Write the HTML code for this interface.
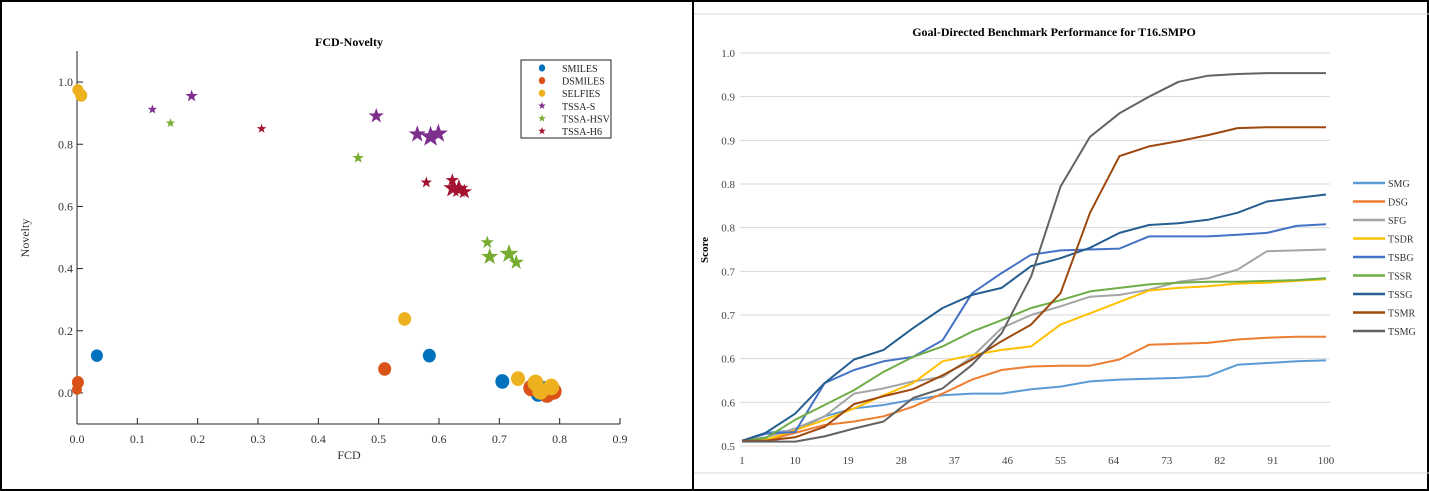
<!DOCTYPE html>
<html><head><meta charset="utf-8">
<style>
html,body{margin:0;padding:0;background:#fff;}
svg{display:block;font-family:"Liberation Serif",serif;}
</style></head>
<body>
<svg id="root" width="1429" height="491" viewBox="0 0 1429 491" xmlns="http://www.w3.org/2000/svg">
  <rect x="1" y="1" width="1427" height="489" fill="#fff" stroke="#000" stroke-width="2"/>
  <line x1="693" y1="0" x2="693" y2="491" stroke="#000" stroke-width="2"/>
  <line x1="694" y1="14" x2="1429" y2="14" stroke="#d9d9d9" stroke-width="1"/>
  <line x1="694" y1="473" x2="1429" y2="473" stroke="#d9d9d9" stroke-width="1"/>

  <g id="left">
    <text x="349" y="46" text-anchor="middle" font-size="12" font-weight="bold">FCD-Novelty</text>
    <text x="349" y="459" text-anchor="middle" font-size="12" fill="#333">FCD</text>
    <text x="29" y="238" text-anchor="middle" font-size="12" fill="#333" transform="rotate(-90 29 238)">Novelty</text>
    <g id="lax"></g>
    <g id="lpts"></g>
    <g id="lleg"></g>
  </g>

  <g id="right">
    <text x="1054" y="36" text-anchor="middle" font-size="12" font-weight="bold">Goal-Directed Benchmark Performance for T16.SMPO</text>
    <text x="708" y="250" text-anchor="middle" font-size="11" font-weight="bold" transform="rotate(-90 708 250)">Score</text>
    <g id="rax"></g>
    <g id="rlines"></g>
    <g id="rleg"></g>
  </g>
</svg>
<script>
// ---------- Left scatter data ----------
const scatterSeries = ["SMILES","DSMILES","SELFIES","TSSA-S","TSSA-HSV","TSSA-H6"];
const scatterColors = ["#0072BD","#D95319","#EDB120","#7E2F8E","#77AC30","#A2142F"];
const scatterShapes = ["circle","circle","circle","star","star","star"];
const smilesFCD = [0.033,0.584,0.705,0.764,0.771];
const smilesNov = [0.12,0.12,0.037,-0.005,0.016];
const smilesSize = [6,6.5,7,7,7];
const dsmilesFCD = [0.0015,0.0,0.51,0.753,0.779,0.79];
const dsmilesNov = [0.034,0.011,0.077,0.016,-0.005,0.005];
const dsmilesSize = [6,5,6.5,8,8,8];
const selfiesFCD = [0.0015,0.007,0.543,0.731,0.760,0.768,0.786];
const selfiesNov = [0.975,0.957,0.238,0.046,0.032,0.005,0.019];
const selfiesSize = [5.5,6,6.5,7,8,8,8];
const tssaSFCD = [0.125,0.19,0.496,0.564,0.586,0.599];
const tssaSNov = [0.912,0.955,0.891,0.832,0.824,0.834];
const tssaSSize = [5,6.5,8,9,11,10];
const tssaHsvFCD = [0.155,0.466,0.680,0.684,0.716,0.728];
const tssaHsvNov = [0.868,0.756,0.484,0.438,0.447,0.42];
const tssaHsvSize = [5,6,7,9,10,8];
const tssaH6FCD = [0.306,0.579,0.622,0.623,0.633,0.642];
const tssaH6Nov = [0.850,0.677,0.684,0.658,0.656,0.647];
const tssaH6Size = [5,6,7,10,10,8];
const xTicksL = [0,0.1,0.2,0.3,0.4,0.5,0.6,0.7,0.8,0.9];
const xTickLabelsL = ["0.0","0.1","0.2","0.3","0.4","0.5","0.6","0.7","0.8","0.9"];
const yTicksL = [0,0.2,0.4,0.6,0.8,1.0];
const yTickLabelsL = ["0.0","0.2","0.4","0.6","0.8","1.0"];

// ---------- Right line chart data ----------
const runs = [1,5,10,15,20,25,30,35,40,45,50,55,60,65,70,75,80,85,90,95,100];
const lineSeries = ["SMG","DSG","SFG","TSDR","TSBG","TSSR","TSSG","TSMR","TSMG"];
const lineColors = ["#5B9BD5","#ED7D31","#A5A5A5","#FFC000","#4472C4","#70AD47","#255E91","#9E480E","#636363"];
const smgVals  = [.506,.515,.518,.534,.543,.547,.553,.558,.560,.560,.565,.568,.574,.576,.577,.578,.580,.593,.595,.597,.598];
const dsgVals  = [.506,.506,.515,.524,.528,.534,.545,.560,.576,.587,.591,.592,.592,.599,.616,.617,.618,.622,.624,.625,.625];
const sfgVals  = [.506,.510,.520,.534,.560,.566,.574,.579,.602,.635,.650,.660,.671,.673,.679,.688,.692,.702,.723,.724,.725];
const tsdrVals = [.506,.507,.518,.530,.543,.558,.572,.597,.604,.610,.614,.639,.652,.665,.678,.681,.683,.686,.687,.689,.691];
const tsbgVals = [.506,.514,.516,.572,.587,.597,.602,.621,.675,.698,.719,.724,.725,.726,.740,.740,.740,.742,.744,.752,.754];
const tssrVals = [.506,.509,.530,.547,.564,.585,.602,.614,.631,.644,.658,.667,.677,.681,.685,.687,.688,.688,.689,.690,.692];
const tssgVals = [.506,.515,.537,.572,.599,.610,.635,.658,.673,.681,.706,.715,.727,.744,.753,.755,.759,.767,.780,.784,.788];
const tsmrVals = [.506,.506,.510,.522,.548,.557,.565,.581,.599,.620,.639,.675,.767,.832,.843,.849,.856,.864,.865,.865,.865];
const tsmgVals = [.505,.505,.505,.511,.520,.528,.555,.566,.593,.629,.694,.797,.854,.881,.900,.917,.924,.926,.927,.927,.927];
const xTicksR = [1,10,19,28,37,46,55,64,73,82,91,100];
const yTicksR = [0.5,0.55,0.6,0.65,0.7,0.75,0.8,0.85,0.9,0.95];
const yTickLabelsR = ["0.5","0.6","0.6","0.7","0.7","0.8","0.8","0.9","0.9","1.0"];

const NS = "http://www.w3.org/2000/svg";
function mk(tag, attrs, parent){
  const e = document.createElementNS(NS, tag);
  for (const k in attrs) e.setAttribute(k, attrs[k]);
  parent.appendChild(e);
  return e;
}
function starPath(cx, cy, r){
  let d = "";
  for (let i=0;i<10;i++){
    const rr = i%2===0 ? r : r*0.4;
    const a = -Math.PI/2 + i*Math.PI/5;
    d += (i===0?"M":"L") + (cx+rr*Math.cos(a)).toFixed(2) + "," + (cy+rr*Math.sin(a)).toFixed(2);
  }
  return d + "Z";
}

// Left axes
const lx = v => 77 + v/0.9*543;
const ly = v => 424 - (v+0.1)/1.2*373;
const lax = document.getElementById("lax");
let e;
e = mk("line",{x1:77,y1:424,x2:620,y2:424,stroke:"#222","stroke-width":1},lax);


e = mk("line",{x1:77,y1:51,x2:77,y2:424,stroke:"#222","stroke-width":1},lax);


xTicksL.forEach((t,i)=>{
  const x = lx(t);
  const tk = mk("line",{x1:x,y1:424,x2:x,y2:418,stroke:"#222"},lax);
  
  
  const tl = mk("text",{x:x,y:443,"text-anchor":"middle","font-size":12,fill:"#333"},lax);
  tl.textContent = xTickLabelsL[i];
  
  
});
yTicksL.forEach((t,i)=>{
  const y = ly(t);
  const tk = mk("line",{x1:77,y1:y,x2:83,y2:y,stroke:"#222"},lax);
  
  
  const tl = mk("text",{x:73,y:y+4,"text-anchor":"end","font-size":12,fill:"#333"},lax);
  tl.textContent = yTickLabelsL[i];
  
  
});

// Left points
const lpts = document.getElementById("lpts");
const scatterData = [
  [smilesFCD,smilesNov,smilesSize],[dsmilesFCD,dsmilesNov,dsmilesSize],[selfiesFCD,selfiesNov,selfiesSize],
  [tssaSFCD,tssaSNov,tssaSSize],[tssaHsvFCD,tssaHsvNov,tssaHsvSize],[tssaH6FCD,tssaH6Nov,tssaH6Size]
];
scatterData.forEach((s,si)=>{
  const [xs,ys,ss] = s;
  xs.forEach((xv,i)=>{
    const cx = lx(xv), cy = ly(ys[i]);
    let m;
    if (scatterShapes[si]==="circle") m = mk("ellipse",{cx:cx,cy:cy,rx:ss[i],ry:ss[i]*1.05,fill:scatterColors[si]},lpts);
    else m = mk("path",{d:starPath(cx,cy,ss[i]),fill:scatterColors[si]},lpts);
    
    
  });
});

// Left legend
const lleg = document.getElementById("lleg");
e = mk("rect",{x:521,y:60,width:90,height:78,fill:"#fff",stroke:"#222","stroke-width":1},lleg);


scatterSeries.forEach((n,i)=>{
  const y = 68 + i*12.6;
  let m;
  if (scatterShapes[i]==="circle") m = mk("ellipse",{cx:542,cy:y,rx:3.2,ry:3.6,fill:scatterColors[i]},lleg);
  else m = mk("path",{d:starPath(542,y,4),fill:scatterColors[i]},lleg);
  
  
  const t = mk("text",{x:562,y:y+4,"font-size":10,fill:"#222"},lleg);
  t.textContent = n;
  
  
});

// Right axes
const rx = v => 742 + (v-1)/99*584;
const ry = v => 446 - (v-0.5)/0.45*393;
const rax = document.getElementById("rax");
yTicksR.forEach((t,i)=>{
  const y = ry(t);
  const g = mk("line",{x1:740,y1:y,x2:1330,y2:y,stroke:"#d9d9d9","stroke-width":1},rax);
  
  
  const tl = mk("text",{x:735,y:y+4,"text-anchor":"end","font-size":11,fill:"#444"},rax);
  tl.textContent = yTickLabelsR[i];
  
  
});
xTicksR.forEach(t=>{
  const tl = mk("text",{x:rx(t),y:464,"text-anchor":"middle","font-size":11,fill:"#444"},rax);
  tl.textContent = String(t);
  
  
});

// Right lines
const rlines = document.getElementById("rlines");
const lineData = [smgVals,dsgVals,sfgVals,tsdrVals,tsbgVals,tssrVals,tssgVals,tsmrVals,tsmgVals];
lineData.forEach((vals,si)=>{
  const pts = vals.map((v,i)=>rx(runs[i]).toFixed(1)+","+ry(v).toFixed(1)).join(" ");
  const pl = mk("polyline",{points:pts,fill:"none",stroke:lineColors[si],"stroke-width":2,"stroke-linejoin":"round"},rlines);
  
  
});

// Right legend
const rleg = document.getElementById("rleg");
lineSeries.forEach((n,i)=>{
  const y = 183 + i*18.5;
  const l = mk("line",{x1:1353,y1:y,x2:1385,y2:y,stroke:lineColors[i],"stroke-width":2.5},rleg);
  
  
  const t = mk("text",{x:1388,y:y+4,"font-size":10,fill:"#333"},rleg);
  t.textContent = n;
  
  
});
</script>
</body></html>
